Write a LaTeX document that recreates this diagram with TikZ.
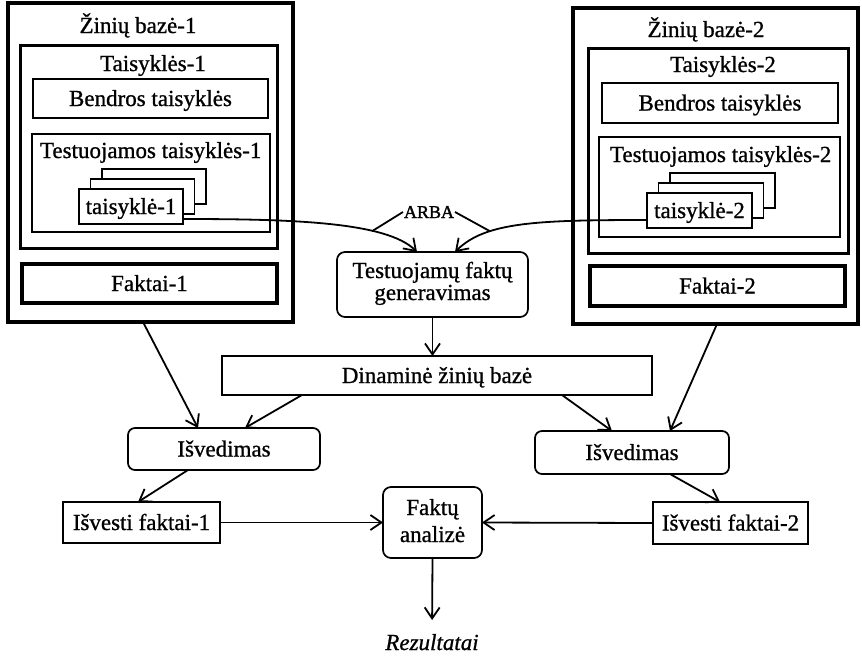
\documentclass[tikz,border=0pt]{standalone}
\usepackage{fontspec}
\setmainfont{Liberation Serif}[FakeBold=0.9]
\newfontfamily\arbafont{Liberation Serif}[FakeBold=1.8]
\usetikzlibrary{arrows.meta,calc}
\begin{document}
\begin{tikzpicture}[x=1pt,y=-1pt,
  every node/.style={font=\fontsize{23}{23}\selectfont, inner sep=0pt, outer sep=0pt, text height=15pt, text depth=0pt},
  thickbox/.style={draw, line width=3.5pt},
  midbox/.style={draw, line width=3pt},
  thinbox/.style={draw, line width=1.7pt},
  cardbox/.style={draw, line width=1.7pt, fill=white, minimum height=35pt},
  rbox/.style={draw, line width=1.7pt, rounded corners=7pt},
  arr/.style={line width=1.8pt, -{Straight Barb[length=11pt,width=15pt]}},
  plain/.style={line width=1.8pt}
]
\useasboundingbox (0,0) rectangle (862,657);
% ---------- left knowledge base ----------
\node[thickbox, minimum width=285pt, minimum height=319pt] (kb1) at (150.5,162.5) {};
\node[anchor=base] (kb1t) at (138,33) {Žinių bazė-1};
\node[midbox, minimum width=257pt, minimum height=203pt] (t1) at (148.5,146.5) {};
\node[anchor=base] (t1t) at (153,71) {Taisyklės-1};
\node[thinbox, minimum width=235pt, minimum height=39pt] (b1) at (150.5,98.5) {Bendros taisyklės};
\node[thinbox, minimum width=238pt, minimum height=98pt] (ts1) at (151,183) {};
\node[anchor=base west] (ts1t) at (40,158) {Testuojamos taisyklės-1};
\node[cardbox, minimum width=104pt] (c1c) at (154,186.5) {};
\node[cardbox, minimum width=104pt] (c1b) at (142.5,196.5) {};
\node[cardbox, minimum width=104pt] (c1a) at (131,206.5) {taisyklė-1};
\node[thickbox, minimum width=255pt, minimum height=39pt] (f1) at (149.5,283.5) {Faktai-1};
% ---------- right knowledge base ----------
\node[thickbox, minimum width=285pt, minimum height=316pt] (kb2) at (715.5,166) {};
\node[anchor=base] (kb2t) at (706,37) {Žinių bazė-2};
\node[midbox, minimum width=260pt, minimum height=205pt] (t2) at (718,150.5) {};
\node[anchor=base] (t2t) at (723,72) {Taisyklės-2};
\node[thinbox, minimum width=236pt, minimum height=40pt] (b2) at (720,103) {Bendros taisyklės};
\node[thinbox, minimum width=241pt, minimum height=100pt] (ts2) at (719.5,187) {};
\node[anchor=base west] (ts2t) at (610,162) {Testuojamos taisyklės-2};
\node[cardbox, minimum width=105pt] (c2c) at (722.5,190.5) {};
\node[cardbox, minimum width=105pt] (c2b) at (711,200.5) {};
\node[cardbox, minimum width=105pt] (c2a) at (699.5,210.5) {taisyklė-2};
\node[thickbox, minimum width=255pt, minimum height=40pt] (f2) at (717.5,286) {Faktai-2};
% ---------- centre ----------
\node[font=\arbafont\fontsize{18}{18}\selectfont, text height=12pt, anchor=base] (arba) at (429,218) {ARBA};
\node[rbox, minimum width=191pt, minimum height=65pt, rounded corners=8pt] (gen) at (432.5,284.5) {};
\node[anchor=base] (gen1) at (432.5,278) {Testuojamų faktų};
\node[anchor=base] (gen2) at (432.5,300) {generavimas};
\node[thinbox, minimum width=430pt, minimum height=39pt] (din) at (437,375.5) {Dinaminė žinių bazė};
\node[rbox, minimum width=192pt, minimum height=42pt] (isv1) at (224,449) {Išvedimas};
\node[rbox, minimum width=194pt, minimum height=43pt] (isv2) at (632,452.5) {Išvedimas};
\node[thinbox, minimum width=157pt, minimum height=41pt] (if1) at (141.5,522.5) {Išvesti faktai-1};
\node[thinbox, minimum width=155pt, minimum height=42pt] (if2) at (730.5,523) {Išvesti faktai-2};
\node[rbox, minimum width=99pt, minimum height=71pt, rounded corners=8pt] (fa) at (432.5,522.5) {};
\node[anchor=base] (fa1) at (432.5,515) {Faktų};
\node[anchor=base] (fa2) at (432.5,542) {analizė};
\node[font=\itshape\fontsize{23}{23}\selectfont, anchor=base] (rez) at (432,650) {Rezultatai};
% ---------- connectors ----------
\draw[arr] ($(c1a.east)+(0,12.5)$) .. controls +(110,0) and +(-30,-30) .. ($(gen.north)+(-15.5,0)$) coordinate[pos=0.69] (cl);
\draw[arr] ($(c2a.west)+(0,9.5)$) .. controls +(-110,0) and +(30,-30) .. ($(gen.north)+(22.5,0)$) coordinate[pos=0.69] (cr);
\draw[plain] ($(arba.west)+(-1,0)$) -- (cl);
\draw[plain] ($(arba.east)+(1,0)$) -- (cr);
\draw[arr] (gen.south) -- (gen.south |- din.north);
\draw[arr] ($(kb1.south)+(-7.5,0)$) -- ($(isv1.north)+(-26,0)$);
\draw[arr] ($(din.south)+(-135,0)$) -- ($(isv1.north)+(21,0)$);
\draw[arr] ($(isv1.south)+(-36,0)$) -- ($(if1.north)+(-3.5,0)$);
\draw[arr] ($(din.south)+(125,0)$) -- ($(isv2.north)+(-20,0)$);
\draw[arr] ($(kb2.south)+(1.5,0)$) -- ($(isv2.north)+(38,0)$);
\draw[arr] ($(isv2.south)+(38,0)$) -- ($(if2.north)+(-10.5,0)$);
\draw[arr] (if1.east) -- (fa.west);
\draw[arr] (if2.west) -- (fa.east);
\draw[arr, shorten >=15pt] (fa.south) -- (rez.north);
\end{tikzpicture}
\end{document}
